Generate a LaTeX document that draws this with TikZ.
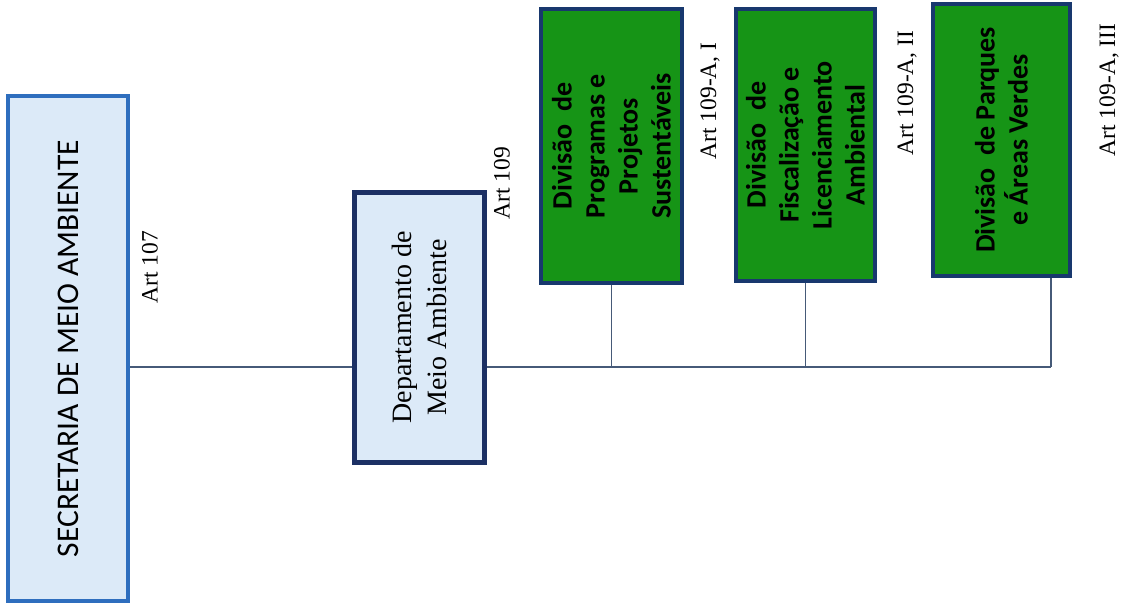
\documentclass[tikz,border=0pt]{standalone}
\usepackage{fontspec}
\setmainfont{Liberation Serif}
\newfontfamily\calibri{Carlito}
\usepackage{tikz}

\definecolor{secfill}{RGB}{220,234,248}
\definecolor{secline}{RGB}{46,110,190}
\definecolor{depline}{RGB}{28,48,100}
\definecolor{divfill}{RGB}{22,148,22}
\definecolor{divline}{RGB}{24,56,110}
\definecolor{wire}{RGB}{70,90,120}

\begin{document}
\begin{tikzpicture}[x=1pt,y=-1pt]
            \tikzstyle{secbox}=[draw=secline,fill=secfill,line width=4pt,rotate=90,minimum width=505pt,minimum height=120pt,font=\calibri\fontsize{31.5}{36}\selectfont]
            \tikzstyle{depbox}=[draw=depline,fill=secfill,line width=5pt,rotate=90,minimum width=270pt,minimum height=130pt,align=center,font=\fontsize{28}{35}\selectfont]
            \tikzstyle{divbox}=[draw=divline,fill=divfill,line width=4pt,rotate=90,align=center,font=\calibri\bfseries\fontsize{28}{33}\selectfont]
            \tikzstyle{art}=[rotate=90,inner sep=0pt,font=\fontsize{23.5}{28}\selectfont]
            \tikzstyle{wire}=[draw=wire,line width=1.5pt]
            \useasboundingbox (0,0) rectangle (1127,608);
            \node[secbox] (sec) at (68,348.5) {SECRETARIA DE MEIO AMBIENTE};
            \node[depbox] (dep) at (419.5,327.5) {Departamento de\\Meio Ambiente};
            \node[divbox,minimum width=274pt,minimum height=141pt] (div1) at (611.5,146) {Divisão~~de\\Programas e\\Projetos\\Sustentáveis};
            \node[divbox,minimum width=272pt,minimum height=139pt] (div2) at (805.5,145) {Divisão~~de\\Fiscalização e\\Licenciamento\\Ambiental};
            \node[divbox,minimum width=272pt,minimum height=137pt] (div3) at (1001.5,140) {Divisão~~de Parques\\e Áreas Verdes};
            \node[art] (art107) at (150,267) {Art 107};
            \node[art] (art109) at (502,183) {Art 109};
            \node[art] (art109a1) at (710,101) {Art 109-A, I};
            \node[art] (art109a2) at (907,93) {Art 109-A, II};
            \node[art] (art109a3) at (1109,90) {Art 109-A, III};
            \coordinate (bus) at (0,367);
            \coordinate (end3) at (1051,367);
            \draw[wire] (sec.south |- bus) -- (dep.north |- bus);
            \draw[wire] (dep.south |- bus) -- (end3);
            \draw[wire] (div1.west) -- (div1.west |- bus);
            \draw[wire] (div2.west) -- (div2.west |- bus);
            \draw[wire] (end3 |- div3.west) -- (end3);
        \end{tikzpicture}
\end{document}
